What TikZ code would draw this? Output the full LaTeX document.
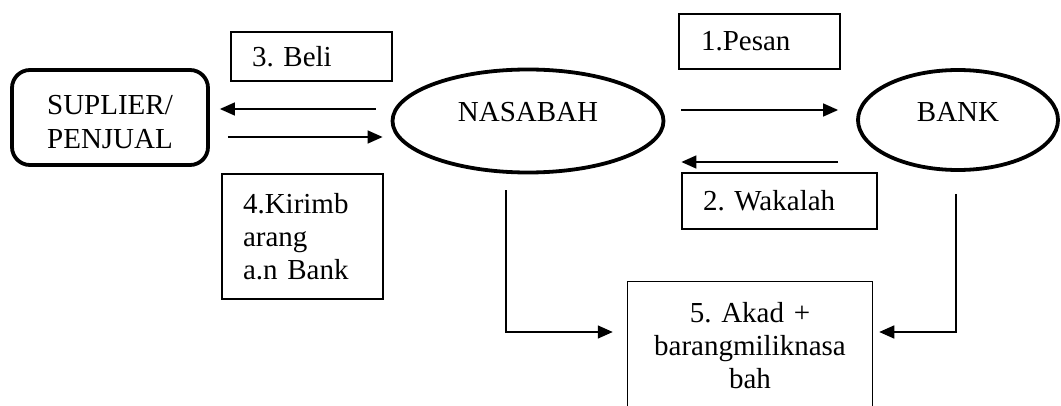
\documentclass[tikz,border=0pt]{standalone}
\usepackage{fontspec}
\setmainfont{Liberation Serif}
\usetikzlibrary{arrows.meta, positioning, shapes.geometric}
\frenchspacing

\begin{document}
\begin{tikzpicture}[x=1pt, y=1pt, >={Triangle[length=15pt,width=13pt]}, line join=miter,
	every node/.style={font=\fontsize{29}{33}\selectfont}]
	
	\tikzset{
		actor/.style={draw, line width=3.8pt, ellipse, inner sep=0pt, text height=20pt},
		party/.style={draw, line width=3.8pt, rounded corners=18pt, align=center, inner sep=0pt},
		labelbox/.style={draw, line width=1.5pt, inner xsep=21pt, inner ysep=0pt, align=left},
		flow/.style={->, line width=1.5pt}
	}
	
	\useasboundingbox (0,0) rectangle (1061,405);
	
	% parties
	\node[party, minimum width=196pt, minimum height=95pt] (sup) at (110,287.5)
		{\smash{\raisebox{-14pt}{\begin{tabular}{@{}c@{}}SUPLIER/\\[1pt]PENJUAL\end{tabular}}}};
	\node[actor, minimum width=271pt, minimum height=103pt, text depth=18pt] (nasabah) at (528,284) {NASABAH};
	\node[actor, minimum width=200pt, minimum height=100pt, text depth=17pt] (bank) at (958,285) {BANK};
	
	% step labels
	\node[labelbox, text width=119pt, minimum height=49pt] (beli) at (311.5,348.5) {3. Beli};
	\node[labelbox, text width=117pt, minimum height=55pt, inner xsep=22pt] (pesan) at (759.5,363.5) {1.Pesan};
	\node[labelbox, text width=153pt, minimum height=56pt] (wakalah) at (779.5,204) {2. Wakalah};
	\node[labelbox, text width=119pt, minimum height=125pt] (kirim) at (302.5,168.5) {4.Kirimb\\arang\\a.n Bank};
	\node[labelbox, text width=203pt, minimum height=129pt, align=center] (akad) at (750,59) {5. Akad +\\barangmiliknasa\\bah};
	
	% flows
	\draw[flow, shorten <=15pt, shorten >=10pt] ([yshift=12pt]nasabah.west) -- ([yshift=8.5pt]sup.east);
	\draw[flow, shorten <=18pt, shorten >=8pt] ([yshift=-19.5pt]sup.east) -- ([yshift=-16pt]nasabah.west);
	\draw[flow, shorten <=16pt, shorten >=18pt] ([yshift=11pt]nasabah.east) -- ([yshift=10pt]bank.west);
	\draw[flow, shorten <=18pt, shorten >=16pt] ([yshift=-42pt]bank.west) -- ([yshift=-41pt]nasabah.east);
	
	\draw[flow, shorten <=16pt, shorten >=14pt] ([xshift=-22pt]nasabah.south) |- ([yshift=14pt]akad.west);
	\draw[flow, shorten <=22pt, shorten >=6pt] ([xshift=-2pt]bank.south) |- ([yshift=14pt]akad.east);
	
\end{tikzpicture}
\end{document}
